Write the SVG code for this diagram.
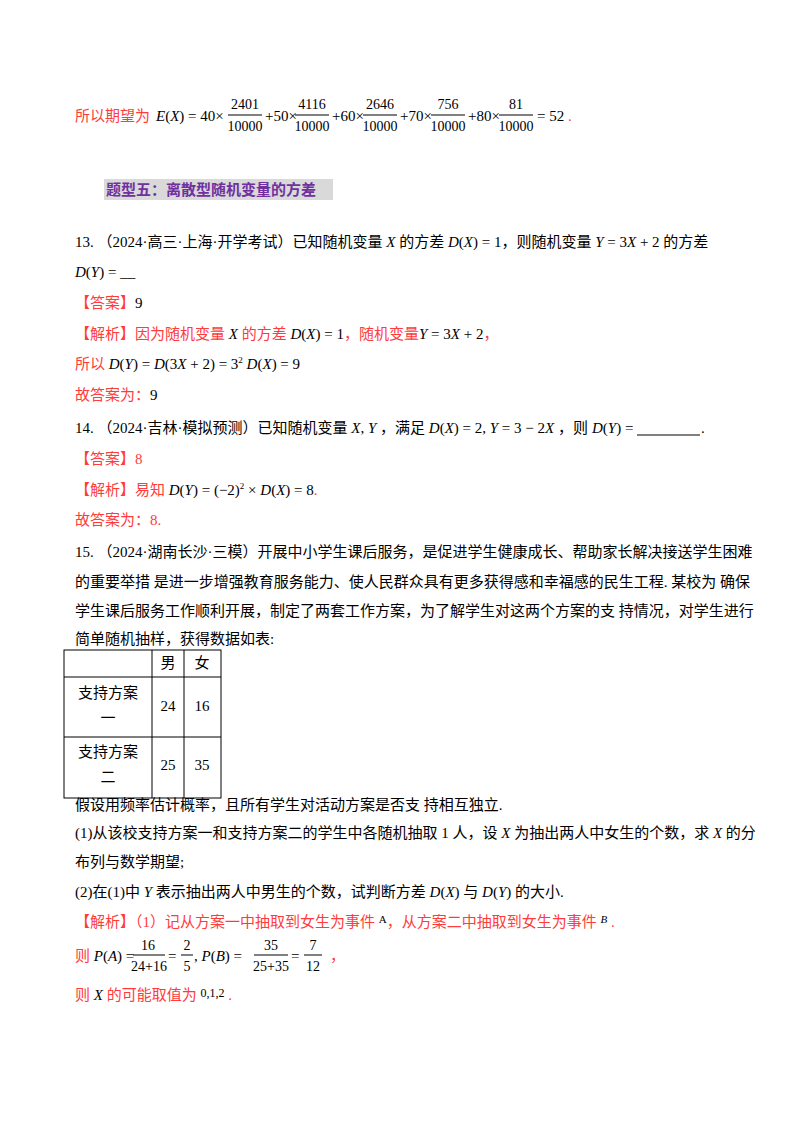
<svg xmlns="http://www.w3.org/2000/svg" width="800" height="1132" viewBox="0 0 800 1132">
<style>
text{font-family:"Liberation Serif","Noto Sans CJK SC",serif;font-size:15px;fill:#000}
.r{fill:#ff3b3b}
.i{font-style:italic}
.m{font-size:14px}
.h{font-family:"Noto Sans CJK SC",sans-serif;font-weight:bold;font-size:15px;fill:#7030a0}
line{stroke:#000;stroke-width:1}
</style>
<rect width="800" height="1132" fill="#fff"/>
<!-- line 1 -->
<text x="75" y="121" class="r">所以期望为</text>
<text x="156" y="121"><tspan class="i">E</tspan>(<tspan class="i">X</tspan>) = 40×</text>
<text x="245" y="109" text-anchor="middle" class="m">2401</text><line x1="228" y1="115" x2="262" y2="115"/><text x="245" y="131" text-anchor="middle" class="m">10000</text>
<text x="265" y="121">+50×</text>
<text x="312" y="109" text-anchor="middle" class="m">4116</text><line x1="295" y1="115" x2="329" y2="115"/><text x="312" y="131" text-anchor="middle" class="m">10000</text>
<text x="332" y="121">+60×</text>
<text x="380" y="109" text-anchor="middle" class="m">2646</text><line x1="363" y1="115" x2="397" y2="115"/><text x="380" y="131" text-anchor="middle" class="m">10000</text>
<text x="400" y="121">+70×</text>
<text x="448" y="109" text-anchor="middle" class="m">756</text><line x1="431" y1="115" x2="465" y2="115"/><text x="448" y="131" text-anchor="middle" class="m">10000</text>
<text x="468" y="121">+80×</text>
<text x="516" y="109" text-anchor="middle" class="m">81</text><line x1="499" y1="115" x2="533" y2="115"/><text x="516" y="131" text-anchor="middle" class="m">10000</text>
<text x="537" y="121">= 52 <tspan class="r">.</tspan></text>
<!-- heading -->
<rect x="104" y="179" width="229" height="21" fill="#d9d9d9"/>
<text x="106" y="195" class="h">题型五：离散型随机变量的方差</text>
<!-- Q13 -->
<text x="75" y="247">13.  （2024·高三·上海·开学考试）已知随机变量 <tspan class="i">X</tspan> 的方差 <tspan class="i">D</tspan>(<tspan class="i">X</tspan>) = 1，则随机变量 <tspan class="i">Y</tspan> = 3<tspan class="i">X</tspan> + 2 的方差</text>
<text x="75" y="277"><tspan class="i">D</tspan>(<tspan class="i">Y</tspan>) = __</text>
<text x="75" y="308"><tspan class="r">【答案】</tspan>9</text>
<text x="75" y="339" class="r">【解析】因为随机变量 <tspan class="i" fill="#000">X</tspan> 的方差 <tspan fill="#000"><tspan class="i">D</tspan>(<tspan class="i">X</tspan>) = 1</tspan>，随机变量<tspan fill="#000"><tspan class="i">Y</tspan> = 3<tspan class="i">X</tspan> + 2</tspan>，</text>
<text x="75" y="369"><tspan class="r">所以</tspan> <tspan class="i">D</tspan>(<tspan class="i">Y</tspan>) = <tspan class="i">D</tspan>(3<tspan class="i">X</tspan> + 2) = 3<tspan font-size="9" dy="-6">2</tspan><tspan dy="6"> </tspan><tspan class="i">D</tspan>(<tspan class="i">X</tspan>) = 9</text>
<text x="75" y="400"><tspan class="r">故答案为：</tspan>9</text>
<!-- Q14 -->
<text x="75" y="433">14.  （2024·吉林·模拟预测）已知随机变量 <tspan class="i">X</tspan>, <tspan class="i">Y</tspan> ，满足 <tspan class="i">D</tspan>(<tspan class="i">X</tspan>) = 2, <tspan class="i">Y</tspan> = 3 − 2<tspan class="i">X</tspan> ，则</text>
<text x="592" y="433"><tspan class="i">D</tspan>(<tspan class="i">Y</tspan>) =</text>
<line x1="637" y1="435" x2="700" y2="435"/><text x="701" y="433">.</text>
<text x="75" y="464" class="r">【答案】8</text>
<text x="75" y="495"><tspan class="r">【解析】易知 </tspan><tspan class="i">D</tspan>(<tspan class="i">Y</tspan>) = (−2)<tspan font-size="9" dy="-6">2</tspan><tspan dy="6"> × </tspan><tspan class="i">D</tspan>(<tspan class="i">X</tspan>) = 8<tspan class="r">.</tspan></text>
<text x="75" y="525" class="r">故答案为：8.</text>
<!-- Q15 -->
<text x="75" y="557">15.  （2024·湖南长沙·三模）开展中小学生课后服务，是促进学生健康成长、帮助家长解决接送学生困难</text>
<text x="75" y="587">的重要举措  是进一步增强教育服务能力、使人民群众具有更多获得感和幸福感的民生工程. 某校为 确保</text>
<text x="75" y="616">学生课后服务工作顺利开展，制定了两套工作方案，为了解学生对这两个方案的支  持情况，对学生进行</text>
<text x="75" y="644">简单随机抽样，获得数据如表:</text>
<!-- table -->
<g fill="none" stroke="#000" stroke-width="1">
<rect x="64" y="650" width="157" height="148"/>
<line x1="64" y1="677" x2="221" y2="677"/>
<line x1="64" y1="737" x2="221" y2="737"/>
<line x1="152" y1="650" x2="152" y2="798"/>
<line x1="184" y1="650" x2="184" y2="798"/>
</g>
<text x="168" y="668" text-anchor="middle">男</text>
<text x="202" y="668" text-anchor="middle">女</text>
<text x="108" y="698" text-anchor="middle">支持方案</text>
<text x="108" y="723" text-anchor="middle">一</text>
<text x="168" y="711" text-anchor="middle">24</text>
<text x="202" y="711" text-anchor="middle">16</text>
<text x="108" y="757" text-anchor="middle">支持方案</text>
<text x="108" y="782" text-anchor="middle">二</text>
<text x="168" y="770" text-anchor="middle">25</text>
<text x="202" y="770" text-anchor="middle">35</text>
<text x="75" y="810">假设用频率估计概率，且所有学生对活动方案是否支  持相互独立.</text>
<text x="75" y="838">(1)从该校支持方案一和支持方案二的学生中各随机抽取 1 人，设 <tspan class="i">X</tspan> 为抽出两人中女生的个数，求 <tspan class="i">X</tspan> 的分</text>
<text x="75" y="867">布列与数学期望;</text>
<text x="75" y="897">(2)在(1)中 <tspan class="i">Y</tspan> 表示抽出两人中男生的个数，试判断方差 <tspan class="i">D</tspan>(<tspan class="i">X</tspan>) 与 <tspan class="i">D</tspan>(<tspan class="i">Y</tspan>) 的大小.</text>
<text x="75" y="927" class="r">【解析】（1）记从方案一中抽取到女生为事件 <tspan fill="#000" font-size="11" dy="-4">A</tspan><tspan dy="4">，从方案二中抽取到女生为事件 </tspan><tspan class="i" fill="#000" font-size="11" dy="-4">B</tspan><tspan dy="4">  .</tspan></text>
<text x="75" y="961"><tspan class="r">则 </tspan><tspan class="i">P</tspan>(<tspan class="i">A</tspan>) =</text>
<text x="148" y="950" text-anchor="middle" class="m">16</text><line x1="133" y1="955" x2="165" y2="955"/><text x="149" y="971" text-anchor="middle" class="m">24+16</text>
<text x="168" y="961">=</text>
<text x="187" y="950" text-anchor="middle" class="m">2</text><line x1="181" y1="955" x2="193" y2="955"/><text x="187" y="971" text-anchor="middle" class="m">5</text>
<text x="194" y="961">, <tspan class="i">P</tspan>(<tspan class="i">B</tspan>) =</text>
<text x="271" y="950" text-anchor="middle" class="m">35</text><line x1="254" y1="955" x2="288" y2="955"/><text x="271" y="971" text-anchor="middle" class="m">25+35</text>
<text x="291" y="961">=</text>
<text x="313" y="950" text-anchor="middle" class="m">7</text><line x1="304" y1="955" x2="322" y2="955"/><text x="313" y="971" text-anchor="middle" class="m">12</text>
<text x="330" y="961" class="r">，</text>
<text x="75" y="1000"><tspan class="r">则 </tspan><tspan class="i">X</tspan><tspan class="r"> 的可能取值为 </tspan><tspan font-size="12" dy="-3">0,1,2</tspan><tspan class="r" dy="3">   .</tspan></text>
</svg>
